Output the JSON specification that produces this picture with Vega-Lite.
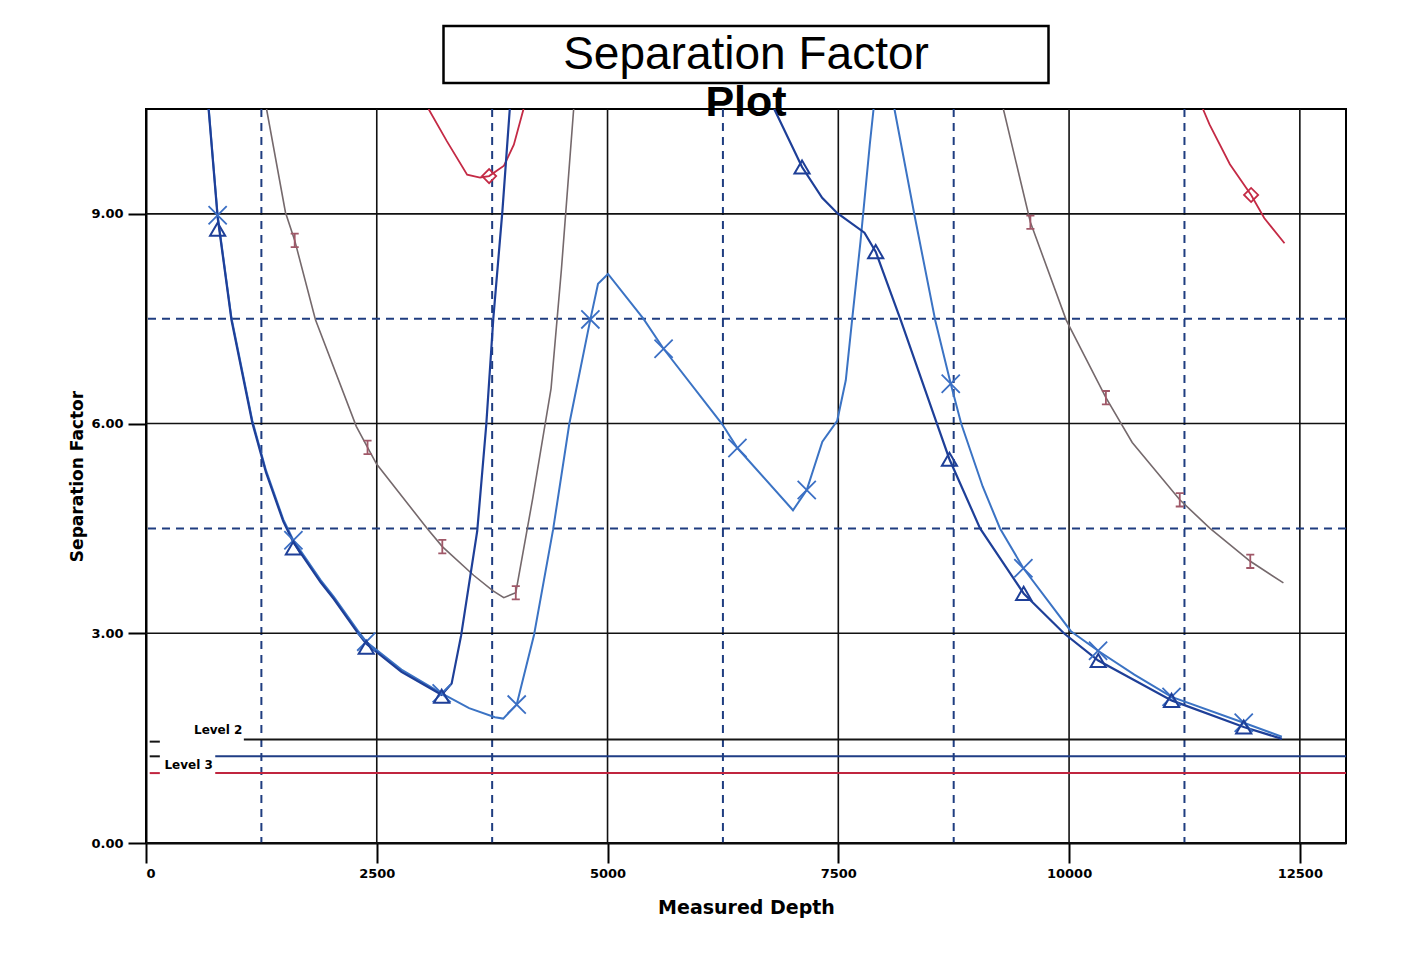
{
  "$schema": "https://vega.github.io/schema/vega-lite/v6.json",
  "background": "white",
  "padding": {"left": 67, "top": 24, "right": 20, "bottom": 20},
  "autosize": {"type": "pad"},
  "config": {
    "view": {"stroke": null},
    "font": "DejaVu Sans",
    "axis": {"labelFont": "DejaVu Sans", "labelFontWeight": "bold", "labelFontSize": 13, "labelColor": "black", "titleFont": "DejaVu Sans", "titleFontWeight": "bold", "titleColor": "black", "domainColor": "black", "domainWidth": 2, "tickColor": "black", "tickWidth": 2, "grid": false}
  },
  "spacing": 26,
  "center": true,
  "bounds": "flush",
  "datasets": {
    "gridX": [
      {"x": 2500, "k": "major"}, {"x": 5000, "k": "major"}, {"x": 7500, "k": "major"}, {"x": 10000, "k": "major"}, {"x": 12500, "k": "major"},
      {"x": 1250, "k": "minor"}, {"x": 3750, "k": "minor"}, {"x": 6250, "k": "minor"}, {"x": 8750, "k": "minor"}, {"x": 11250, "k": "minor"}
    ],
    "gridY": [
      {"y": 0, "k": "major"}, {"y": 3, "k": "major"}, {"y": 6, "k": "major"}, {"y": 9, "k": "major"},
      {"y": 4.5, "k": "minor"}, {"y": 7.5, "k": "minor"}
    ],
    "levels": [
      {"lvl": "Level 2", "x": 1060, "x2": 13000, "y": 1.48},
      {"lvl": "Level 2b", "x": 750, "x2": 13000, "y": 1.24},
      {"lvl": "Level 3", "x": 750, "x2": 13000, "y": 1.0},
      {"lvl": "Level 2", "x": 40, "x2": 150, "y": 1.45},
      {"lvl": "Level 2", "x": 40, "x2": 150, "y": 1.24},
      {"lvl": "Level 3", "x": 40, "x2": 150, "y": 1.0}
    ],
    "labels": [
      {"t": "Level 2", "x": 520, "y": 1.56},
      {"t": "Level 3", "x": 200, "y": 1.06}
    ],
    "curves": [
      {"s": "T", "g": "T1", "x": 678, "y": 10.5},
      {"s": "T", "g": "T1", "x": 776, "y": 8.95},
      {"s": "T", "g": "T1", "x": 926, "y": 7.48},
      {"s": "T", "g": "T1", "x": 1152, "y": 6.01},
      {"s": "T", "g": "T1", "x": 1300, "y": 5.3},
      {"s": "T", "g": "T1", "x": 1487, "y": 4.6},
      {"s": "T", "g": "T1", "x": 1597, "y": 4.3},
      {"s": "T", "g": "T1", "x": 1892, "y": 3.73},
      {"s": "T", "g": "T1", "x": 2035, "y": 3.49},
      {"s": "T", "g": "T1", "x": 2298, "y": 3.0},
      {"s": "T", "g": "T1", "x": 2386, "y": 2.85},
      {"s": "T", "g": "T1", "x": 2767, "y": 2.45},
      {"s": "T", "g": "T1", "x": 3203, "y": 2.12},
      {"s": "T", "g": "T1", "x": 3311, "y": 2.28},
      {"s": "T", "g": "T1", "x": 3414, "y": 2.97},
      {"s": "T", "g": "T1", "x": 3588, "y": 4.46},
      {"s": "T", "g": "T1", "x": 3686, "y": 5.98},
      {"s": "T", "g": "T1", "x": 3763, "y": 7.51},
      {"s": "T", "g": "T1", "x": 3861, "y": 9.04},
      {"s": "T", "g": "T1", "x": 3941, "y": 10.5},
      {"s": "T", "g": "T2", "x": 6806, "y": 10.5},
      {"s": "T", "g": "T2", "x": 7107, "y": 9.67},
      {"s": "T", "g": "T2", "x": 7325, "y": 9.23},
      {"s": "T", "g": "T2", "x": 7490, "y": 9.01},
      {"s": "T", "g": "T2", "x": 7783, "y": 8.73},
      {"s": "T", "g": "T2", "x": 7905, "y": 8.46},
      {"s": "T", "g": "T2", "x": 8182, "y": 7.46},
      {"s": "T", "g": "T2", "x": 8571, "y": 5.99},
      {"s": "T", "g": "T2", "x": 8704, "y": 5.49},
      {"s": "T", "g": "T2", "x": 9036, "y": 4.5},
      {"s": "T", "g": "T2", "x": 9508, "y": 3.57},
      {"s": "T", "g": "T2", "x": 9944, "y": 3.0},
      {"s": "T", "g": "T2", "x": 10316, "y": 2.61},
      {"s": "T", "g": "T2", "x": 11110, "y": 2.04},
      {"s": "T", "g": "T2", "x": 11892, "y": 1.66},
      {"s": "T", "g": "T2", "x": 12305, "y": 1.49},

      {"s": "X", "g": "X1", "x": 680, "y": 10.5},
      {"s": "X", "g": "X1", "x": 776, "y": 8.98},
      {"s": "X", "g": "X1", "x": 926, "y": 7.51},
      {"s": "X", "g": "X1", "x": 1152, "y": 6.04},
      {"s": "X", "g": "X1", "x": 1300, "y": 5.33},
      {"s": "X", "g": "X1", "x": 1487, "y": 4.63},
      {"s": "X", "g": "X1", "x": 1597, "y": 4.33},
      {"s": "X", "g": "X1", "x": 1892, "y": 3.76},
      {"s": "X", "g": "X1", "x": 2035, "y": 3.52},
      {"s": "X", "g": "X1", "x": 2298, "y": 3.03},
      {"s": "X", "g": "X1", "x": 2386, "y": 2.88},
      {"s": "X", "g": "X1", "x": 2767, "y": 2.48},
      {"s": "X", "g": "X1", "x": 3203, "y": 2.14},
      {"s": "X", "g": "X1", "x": 3500, "y": 1.93},
      {"s": "X", "g": "X1", "x": 3780, "y": 1.8},
      {"s": "X", "g": "X1", "x": 3870, "y": 1.78},
      {"s": "X", "g": "X1", "x": 4016, "y": 1.98},
      {"s": "X", "g": "X1", "x": 4204, "y": 2.98},
      {"s": "X", "g": "X1", "x": 4411, "y": 4.49},
      {"s": "X", "g": "X1", "x": 4585, "y": 5.99},
      {"s": "X", "g": "X1", "x": 4814, "y": 7.49},
      {"s": "X", "g": "X1", "x": 4897, "y": 8.0},
      {"s": "X", "g": "X1", "x": 5005, "y": 8.14},
      {"s": "X", "g": "X1", "x": 5388, "y": 7.5},
      {"s": "X", "g": "X1", "x": 5607, "y": 7.07},
      {"s": "X", "g": "X1", "x": 6243, "y": 5.99},
      {"s": "X", "g": "X1", "x": 6407, "y": 5.65},
      {"s": "X", "g": "X1", "x": 7009, "y": 4.76},
      {"s": "X", "g": "X1", "x": 7158, "y": 5.05},
      {"s": "X", "g": "X1", "x": 7327, "y": 5.74},
      {"s": "X", "g": "X1", "x": 7488, "y": 6.04},
      {"s": "X", "g": "X1", "x": 7581, "y": 6.62},
      {"s": "X", "g": "X1", "x": 7650, "y": 7.49},
      {"s": "X", "g": "X1", "x": 7740, "y": 8.6},
      {"s": "X", "g": "X1", "x": 7841, "y": 9.99},
      {"s": "X", "g": "X1", "x": 7882, "y": 10.5},
      {"s": "X", "g": "X2", "x": 8108, "y": 10.5},
      {"s": "X", "g": "X2", "x": 8324, "y": 8.99},
      {"s": "X", "g": "X2", "x": 8551, "y": 7.47},
      {"s": "X", "g": "X2", "x": 8718, "y": 6.57},
      {"s": "X", "g": "X2", "x": 8831, "y": 6.0},
      {"s": "X", "g": "X2", "x": 9064, "y": 5.1},
      {"s": "X", "g": "X2", "x": 9252, "y": 4.5},
      {"s": "X", "g": "X2", "x": 9505, "y": 3.93},
      {"s": "X", "g": "X2", "x": 10020, "y": 3.03},
      {"s": "X", "g": "X2", "x": 10314, "y": 2.75},
      {"s": "X", "g": "X2", "x": 10707, "y": 2.41},
      {"s": "X", "g": "X2", "x": 11110, "y": 2.09},
      {"s": "X", "g": "X2", "x": 11892, "y": 1.72},
      {"s": "X", "g": "X2", "x": 12305, "y": 1.52},

      {"s": "R", "g": "R1", "x": 3061, "y": 10.5},
      {"s": "R", "g": "R1", "x": 3259, "y": 10.04},
      {"s": "R", "g": "R1", "x": 3479, "y": 9.56},
      {"s": "R", "g": "R1", "x": 3619, "y": 9.52},
      {"s": "R", "g": "R1", "x": 3717, "y": 9.54},
      {"s": "R", "g": "R1", "x": 3878, "y": 9.69},
      {"s": "R", "g": "R1", "x": 3985, "y": 9.99},
      {"s": "R", "g": "R1", "x": 4090, "y": 10.5},
      {"s": "R", "g": "R2", "x": 11450, "y": 10.5},
      {"s": "R", "g": "R2", "x": 11521, "y": 10.28},
      {"s": "R", "g": "R2", "x": 11742, "y": 9.71},
      {"s": "R", "g": "R2", "x": 11972, "y": 9.27},
      {"s": "R", "g": "R2", "x": 12114, "y": 8.94},
      {"s": "R", "g": "R2", "x": 12334, "y": 8.58},

      {"s": "G", "g": "G1", "x": 1306, "y": 10.5},
      {"s": "G", "g": "G1", "x": 1511, "y": 9.02},
      {"s": "G", "g": "G1", "x": 1611, "y": 8.62},
      {"s": "G", "g": "G1", "x": 1835, "y": 7.49},
      {"s": "G", "g": "G1", "x": 2278, "y": 5.96},
      {"s": "G", "g": "G1", "x": 2400, "y": 5.66},
      {"s": "G", "g": "G1", "x": 2498, "y": 5.42},
      {"s": "G", "g": "G1", "x": 3046, "y": 4.5},
      {"s": "G", "g": "G1", "x": 3210, "y": 4.24},
      {"s": "G", "g": "G1", "x": 3549, "y": 3.83},
      {"s": "G", "g": "G1", "x": 3756, "y": 3.61},
      {"s": "G", "g": "G1", "x": 3876, "y": 3.51},
      {"s": "G", "g": "G1", "x": 4006, "y": 3.58},
      {"s": "G", "g": "G1", "x": 4191, "y": 4.94},
      {"s": "G", "g": "G1", "x": 4388, "y": 6.5},
      {"s": "G", "g": "G1", "x": 4500, "y": 8.2},
      {"s": "G", "g": "G1", "x": 4633, "y": 10.5},
      {"s": "G", "g": "G2", "x": 9288, "y": 10.5},
      {"s": "G", "g": "G2", "x": 9581, "y": 8.88},
      {"s": "G", "g": "G2", "x": 9969, "y": 7.48},
      {"s": "G", "g": "G2", "x": 10399, "y": 6.37},
      {"s": "G", "g": "G2", "x": 10684, "y": 5.73},
      {"s": "G", "g": "G2", "x": 11199, "y": 4.91},
      {"s": "G", "g": "G2", "x": 11527, "y": 4.5},
      {"s": "G", "g": "G2", "x": 11963, "y": 4.03},
      {"s": "G", "g": "G2", "x": 12322, "y": 3.72}
    ],
    "markers": [
      {"s": "T", "x": 776, "y": 8.78}, {"s": "T", "x": 1597, "y": 4.22}, {"s": "T", "x": 2386, "y": 2.8}, {"s": "T", "x": 3203, "y": 2.1},
      {"s": "T", "x": 7107, "y": 9.67}, {"s": "T", "x": 7905, "y": 8.46}, {"s": "T", "x": 8704, "y": 5.49}, {"s": "T", "x": 9508, "y": 3.57},
      {"s": "T", "x": 10316, "y": 2.61}, {"s": "T", "x": 11110, "y": 2.04}, {"s": "T", "x": 11892, "y": 1.66},
      {"s": "X", "x": 776, "y": 8.98}, {"s": "X", "x": 1597, "y": 4.33}, {"s": "X", "x": 2386, "y": 2.88}, {"s": "X", "x": 3203, "y": 2.14},
      {"s": "X", "x": 4016, "y": 1.98}, {"s": "X", "x": 4814, "y": 7.49}, {"s": "X", "x": 5607, "y": 7.07}, {"s": "X", "x": 6407, "y": 5.65},
      {"s": "X", "x": 7158, "y": 5.05}, {"s": "X", "x": 8718, "y": 6.57}, {"s": "X", "x": 9505, "y": 3.93}, {"s": "X", "x": 10314, "y": 2.75},
      {"s": "X", "x": 11110, "y": 2.09}, {"s": "X", "x": 11892, "y": 1.72},
      {"s": "R", "x": 3717, "y": 9.54}, {"s": "R", "x": 11972, "y": 9.27},
      {"s": "G", "x": 1611, "y": 8.62}, {"s": "G", "x": 2400, "y": 5.66}, {"s": "G", "x": 3210, "y": 4.24}, {"s": "G", "x": 4006, "y": 3.58},
      {"s": "G", "x": 9581, "y": 8.88}, {"s": "G", "x": 10399, "y": 6.37}, {"s": "G", "x": 11199, "y": 4.91}, {"s": "G", "x": 11963, "y": 4.03}
    ]
  },
  "vconcat": [
    {
      "width": 605,
      "height": 57,
      "view": {"stroke": "black", "strokeWidth": 2.5},
      "title": {"text": "Plot", "orient": "bottom", "font": "Liberation Sans", "fontSize": 43, "fontWeight": "bold", "color": "black", "frame": "group", "anchor": "middle", "baseline": "alphabetic", "offset": 33},
      "data": {"values": [{"t": "Separation Factor"}]},
      "mark": {"type": "text", "font": "Liberation Sans", "fontSize": 46, "color": "black", "baseline": "middle", "align": "center", "dy": 0},
      "encoding": {"text": {"field": "t"}}
    },
    {
      "width": 1200,
      "height": 734,
      "view": {"stroke": "black", "strokeWidth": 2},
      "layer": [
        {
          "data": {"name": "gridX"},
          "transform": [{"filter": "datum.k == 'minor'"}],
          "mark": {"type": "rule", "color": "#1f3d80", "strokeWidth": 2, "strokeDash": [8, 6]},
          "encoding": {"x": {"field": "x", "type": "quantitative", "scale": {"domain": [0, 13000], "nice": false}}}
        },
        {
          "data": {"name": "gridX"},
          "transform": [{"filter": "datum.k == 'major'"}],
          "mark": {"type": "rule", "color": "#111111", "strokeWidth": 1.6},
          "encoding": {"x": {"field": "x", "type": "quantitative", "scale": {"domain": [0, 13000], "nice": false},
            "axis": {"values": [0, 2500, 5000, 7500, 10000, 12500], "format": "d", "title": "Measured Depth", "tickSize": 20, "labelPadding": 4, "titleFontSize": 19, "titlePadding": 18}}}
        },
        {
          "data": {"name": "gridY"},
          "transform": [{"filter": "datum.k == 'minor'"}],
          "mark": {"type": "rule", "color": "#1f3d80", "strokeWidth": 2, "strokeDash": [8, 6]},
          "encoding": {"y": {"field": "y", "type": "quantitative", "scale": {"domain": [0, 10.5], "nice": false}}}
        },
        {
          "data": {"name": "gridY"},
          "transform": [{"filter": "datum.k == 'major'"}],
          "mark": {"type": "rule", "color": "#111111", "strokeWidth": 1.6},
          "encoding": {"y": {"field": "y", "type": "quantitative", "scale": {"domain": [0, 10.5], "nice": false},
            "axis": {"values": [0, 3, 6, 9], "format": ".2f", "title": "Separation Factor", "tickSize": 18, "labelPadding": 5, "titleFontSize": 17, "titlePadding": 4}}}
        },
        {
          "data": {"name": "levels"},
          "mark": {"type": "rule", "strokeWidth": 2},
          "encoding": {
            "x": {"field": "x", "type": "quantitative", "scale": {"domain": [0, 13000], "nice": false}},
            "x2": {"field": "x2"},
            "y": {"field": "y", "type": "quantitative", "scale": {"domain": [0, 10.5], "nice": false}},
            "color": {"field": "lvl", "type": "nominal", "scale": {"domain": ["Level 2", "Level 2b", "Level 3"], "range": ["#151515", "#1f3d85", "#c0253f"]}, "legend": null}
          }
        },
        {
          "data": {"name": "curves"},
          "transform": [{"filter": "datum.s == 'G'"}],
          "mark": {"type": "line", "clip": true, "color": "#75696c", "strokeWidth": 1.6},
          "encoding": {
            "x": {"field": "x", "type": "quantitative", "scale": {"domain": [0, 13000], "nice": false}},
            "y": {"field": "y", "type": "quantitative", "scale": {"domain": [0, 10.5], "nice": false}},
            "detail": {"field": "g"}
          }
        },
        {
          "data": {"name": "curves"},
          "transform": [{"filter": "datum.s == 'R'"}],
          "mark": {"type": "line", "clip": true, "color": "#c42a45", "strokeWidth": 1.8},
          "encoding": {
            "x": {"field": "x", "type": "quantitative", "scale": {"domain": [0, 13000], "nice": false}},
            "y": {"field": "y", "type": "quantitative", "scale": {"domain": [0, 10.5], "nice": false}},
            "detail": {"field": "g"}
          }
        },
        {
          "data": {"name": "curves"},
          "transform": [{"filter": "datum.s == 'X'"}],
          "mark": {"type": "line", "clip": true, "color": "#3b73c4", "strokeWidth": 2},
          "encoding": {
            "x": {"field": "x", "type": "quantitative", "scale": {"domain": [0, 13000], "nice": false}},
            "y": {"field": "y", "type": "quantitative", "scale": {"domain": [0, 10.5], "nice": false}},
            "detail": {"field": "g"}
          }
        },
        {
          "data": {"name": "curves"},
          "transform": [{"filter": "datum.s == 'T'"}],
          "mark": {"type": "line", "clip": true, "color": "#1e3f98", "strokeWidth": 2.2},
          "encoding": {
            "x": {"field": "x", "type": "quantitative", "scale": {"domain": [0, 13000], "nice": false}},
            "y": {"field": "y", "type": "quantitative", "scale": {"domain": [0, 10.5], "nice": false}},
            "detail": {"field": "g"}
          }
        },
        {
          "data": {"name": "markers"},
          "transform": [{"filter": "datum.s == 'G'"}],
          "mark": {"type": "point", "filled": false, "shape": "M-0.6,-1L0.6,-1M0,-1L0,1M-0.6,1L0.6,1", "size": 180, "color": "#a05868", "strokeWidth": 1.8, "opacity": 1},
          "encoding": {
            "x": {"field": "x", "type": "quantitative", "scale": {"domain": [0, 13000], "nice": false}},
            "y": {"field": "y", "type": "quantitative", "scale": {"domain": [0, 10.5], "nice": false}}
          }
        },
        {
          "data": {"name": "markers"},
          "transform": [{"filter": "datum.s == 'R'"}],
          "mark": {"type": "point", "filled": false, "shape": "diamond", "size": 200, "color": "#c42a45", "strokeWidth": 1.8, "opacity": 1},
          "encoding": {
            "x": {"field": "x", "type": "quantitative", "scale": {"domain": [0, 13000], "nice": false}},
            "y": {"field": "y", "type": "quantitative", "scale": {"domain": [0, 10.5], "nice": false}}
          }
        },
        {
          "data": {"name": "markers"},
          "transform": [{"filter": "datum.s == 'X'"}],
          "mark": {"type": "point", "filled": false, "shape": "M-1,-1L1,1M-1,1L1,-1", "size": 330, "color": "#3b6fc4", "strokeWidth": 1.8, "opacity": 1},
          "encoding": {
            "x": {"field": "x", "type": "quantitative", "scale": {"domain": [0, 13000], "nice": false}},
            "y": {"field": "y", "type": "quantitative", "scale": {"domain": [0, 10.5], "nice": false}}
          }
        },
        {
          "data": {"name": "markers"},
          "transform": [{"filter": "datum.s == 'T'"}],
          "mark": {"type": "point", "filled": false, "shape": "triangle-up", "size": 230, "color": "#1e3f98", "strokeWidth": 2, "opacity": 1},
          "encoding": {
            "x": {"field": "x", "type": "quantitative", "scale": {"domain": [0, 13000], "nice": false}},
            "y": {"field": "y", "type": "quantitative", "scale": {"domain": [0, 10.5], "nice": false}}
          }
        },
        {
          "data": {"name": "labels"},
          "mark": {"type": "text", "font": "DejaVu Sans", "fontWeight": "bold", "fontSize": 12, "color": "black", "align": "left", "baseline": "alphabetic"},
          "encoding": {
            "x": {"field": "x", "type": "quantitative", "scale": {"domain": [0, 13000], "nice": false}},
            "y": {"field": "y", "type": "quantitative", "scale": {"domain": [0, 10.5], "nice": false}},
            "text": {"field": "t"}
          }
        }
      ]
    }
  ]
}
